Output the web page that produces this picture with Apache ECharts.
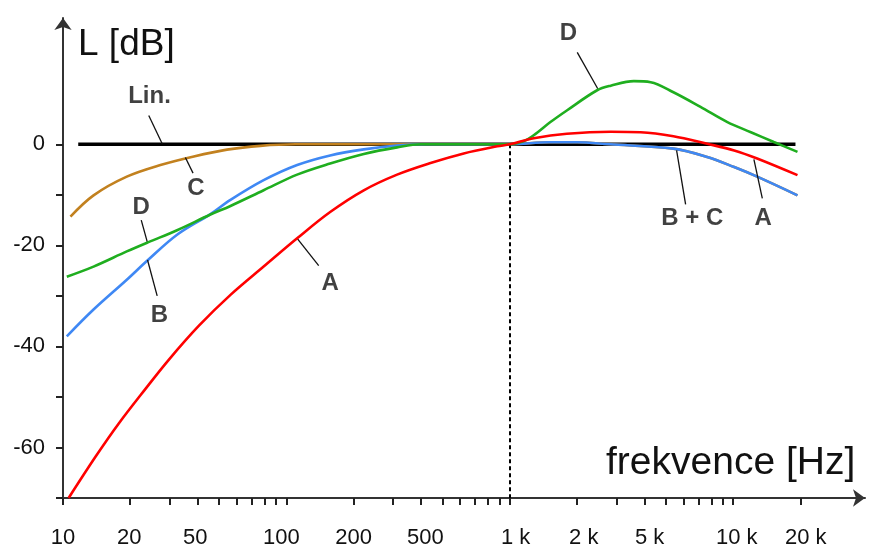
<!DOCTYPE html>
<html>
<head>
<meta charset="utf-8">
<script src="https://cdn.jsdelivr.net/npm/echarts@6/dist/echarts.min.js"></script>
<style>
  html, body { margin: 0; background: #fff; }
  #chart { width: 872px; height: 552px; }
</style>
</head>
<body>
<div id="chart"></div>
<script>
// frekvence [Hz] -> L [dB]
const linFreq = [11.7, 19000];
const linDb = [0, 0];

const aFreq = [10.6, 14.0, 17.8, 23.4, 29.8, 40.6, 56.2, 79.1, 111.7, 157, 222, 313, 442, 622, 879, 1000, 1280, 1800, 2830, 3850, 5400, 7650, 10100, 12800, 19400];
const aDb = [-70, -61.8, -55.2, -48.4, -42.6, -35.9, -29.8, -24.2, -18.6, -13.4, -9.1, -6.0, -3.7, -1.8, -0.4, 0, 1.2, 2.1, 2.5, 2.4, 1.6, 0.1, -1.2, -2.8, -6.1];

const bFreq = [10.4, 13.7, 19.3, 24, 32.4, 45.7, 56.2, 79.1, 111.7, 157, 222, 313, 420, 1000, 1500, 2000, 2800, 5400, 7650, 10100, 12800, 19400];
const bDb = [-38, -32.7, -26.8, -22.9, -17.9, -13.8, -11.0, -7.1, -4.1, -2.2, -1.0, -0.25, 0, 0, 0.4, 0.4, 0, -0.85, -2.5, -4.5, -6.4, -10.1];

const cFreq = [10.8, 13.7, 19.3, 27.3, 38.5, 54.2, 76.5, 110, 1000, 1500, 2000, 2800, 5400, 7650, 10100, 12800, 19400];
const cDb = [-14.3, -10.1, -6.4, -4.1, -2.4, -1.05, -0.3, 0, 0, 0.4, 0.4, 0, -0.85, -2.5, -4.5, -6.4, -10.1];

const dFreq = [10.4, 13.7, 19.3, 24, 32.4, 45.7, 56.2, 79.1, 111.7, 157, 222, 313, 400, 1000, 1150, 1280, 1520, 1800, 2460, 2830, 3590, 4270, 5400, 7140, 9420, 12000, 15200, 19400];
const dDb = [-26.2, -24.2, -21.2, -19.4, -17.0, -13.9, -12.2, -9.1, -6.0, -3.8, -1.9, -0.6, 0, 0, 0.6, 1.8, 4.4, 6.7, 10.7, 11.6, 12.5, 12.3, 10.3, 7.4, 4.4, 2.4, 0.45, -1.5];

const refFreq = 1000;

// axis ticks / labels
const xTickFreq = [10, 20, 30, 40, 50, 60, 70, 80, 90, 100, 200, 300, 400, 500, 600, 700, 800, 900,
  1000, 2000, 3000, 4000, 5000, 6000, 7000, 8000, 9000, 10000, 20000];
const xLabelText = ["10", "20", "50", "100", "200", "500", "1 k", "2 k", "5 k", "10 k", "20 k"];
const xLabelAt = [10, 19.8, 39.1, 95, 200, 419, 1062, 2143, 4227, 10370, 21140];
const yTicks = [-70, -60, -50, -40, -30, -20, -10, 0];
const yLabels = [-60, -40, -20, 0];

// curve labels and their leader lines
const noteText = ["Lin.", "C", "D", "B", "A", "D", "B + C", "A"];
const noteFreq = [24.4, 39.4, 22.4, 27.0, 157, 1832, 6561, 13614];
const noteDb = [9.5, -8.75, -12.5, -33.8, -27.5, 22, -14.6, -14.6];
const leadFromFreq = [24.2, 35.3, 22.4, 23.9, 111.7, 2004, 5580, 12380];
const leadFromDb = [5.7, -2.6, -15.0, -22.9, -18.6, 18.2, -1.2, -3.0];
const leadToFreq = [27.8, 38.2, 23.9, 26.4, 139.5, 2477, 6124, 13500];
const leadToDb = [0.1, -5.7, -19.5, -30.0, -24.0, 11.0, -11.9, -10.7];

const lg = Math.log10;
const pairs = (fs, ds) => fs.map((f, i) => [lg(f), ds[i]]);
const FONT = '"Liberation Sans", Arial, Helvetica, sans-serif';

const chart = echarts.init(document.getElementById("chart"));

function curve(name, fs, ds, color, z) {
  return {
    name,
    type: "line",
    data: pairs(fs, ds),
    smooth: 0.35,
    symbol: "none",
    z,
    lineStyle: { color, width: 2.6 },
  };
}

const option = {
  animation: false,
  backgroundColor: "#ffffff",
  textStyle: { fontFamily: FONT },
  grid: { left: 63, right: 7, top: 18, bottom: 54, outerBoundsMode: "none" },
  graphic: [
    {
      type: "text",
      left: 78,
      top: 26,
      style: { text: "L [dB]", font: "37px " + FONT, fill: "#111" },
    },
    {
      type: "text",
      left: 606,
      top: 444,
      style: { text: "frekvence [Hz]", font: "39px " + FONT, fill: "#111" },
    },
  ],
  xAxis: {
    type: "value",
    min: 1,
    max: 4.59,
    splitLine: { show: false },
    axisLine: {
      show: true,
      onZero: false,
      symbol: ["none", "arrow"],
      symbolSize: [13, 12],
      lineStyle: { color: "#333", width: 2 },
    },
    axisTick: {
      show: true,
      customValues: xTickFreq.map(lg),
      length: 7,
      lineStyle: { color: "#222", width: 2 },
    },
    axisLabel: {
      customValues: xLabelAt.map(lg),
      formatter(v) {
        let best = 0;
        xLabelAt.forEach((f, i) => {
          if (Math.abs(lg(f) - v) < Math.abs(lg(xLabelAt[best]) - v)) best = i;
        });
        return xLabelText[best];
      },
      margin: 29,
      fontSize: 22,
      color: "#111",
      fontFamily: FONT,
    },
  },
  yAxis: {
    type: "value",
    min: -70,
    max: 25,
    splitLine: { show: false },
    axisLine: {
      show: true,
      onZero: false,
      symbol: ["none", "arrow"],
      symbolSize: [13, 12],
      lineStyle: { color: "#333", width: 2 },
    },
    axisTick: {
      show: true,
      customValues: yTicks,
      length: 7,
      lineStyle: { color: "#222", width: 2 },
    },
    axisLabel: {
      customValues: yLabels,
      margin: 18,
      fontSize: 22,
      color: "#111",
      fontFamily: FONT,
    },
  },
  series: [
    {
      name: "Lin.",
      type: "line",
      data: pairs(linFreq, linDb),
      symbol: "none",
      z: 2,
      lineStyle: { color: "#000", width: 3.5 },
      markLine: {
        silent: true,
        symbol: "none",
        label: { show: false },
        lineStyle: { color: "#000", width: 2, type: [4, 3] },
        data: [[{ coord: [lg(refFreq), 0] }, { coord: [lg(refFreq), -70] }]],
      },
    },
    curve("C", cFreq, cDb, "#c2811f", 3),
    curve("B", bFreq, bDb, "#3f88f4", 4),
    curve("D", dFreq, dDb, "#1fae1f", 5),
    curve("A", aFreq, aDb, "#ff0000", 6),
    {
      name: "notes",
      type: "scatter",
      symbolSize: 2,
      z: 10,
      itemStyle: { color: "rgba(0,0,0,0)" },
      data: noteText.map((t, i) => ({ name: t, value: [lg(noteFreq[i]), noteDb[i]] })),
      label: {
        show: true,
        position: "inside",
        formatter: "{b}",
        fontSize: 24,
        fontWeight: "bold",
        color: "#111",
        fontFamily: FONT,
      },
      markLine: {
        silent: true,
        symbol: "none",
        label: { show: false },
        lineStyle: { color: "#111", width: 1.3, type: "solid" },
        data: leadFromFreq.map((f, i) => [
          { coord: [lg(f), leadFromDb[i]] },
          { coord: [lg(leadToFreq[i]), leadToDb[i]] },
        ]),
      },
    },
  ],
};

chart.setOption(option);
</script>
</body>
</html>
